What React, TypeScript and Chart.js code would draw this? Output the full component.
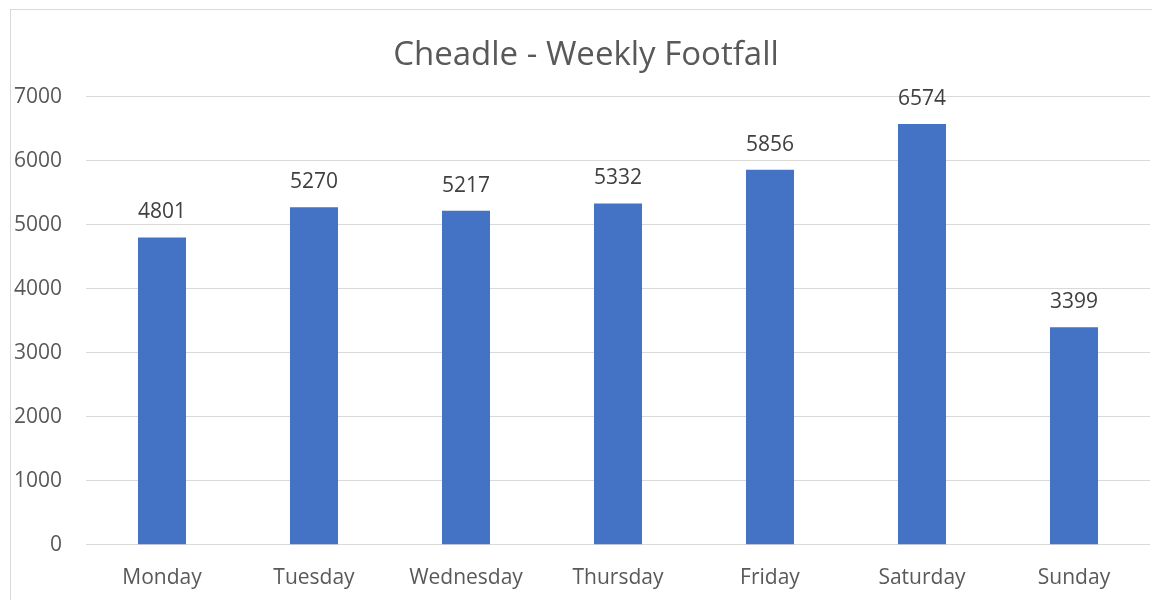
import React, { useEffect, useRef } from "react";
import { Chart, registerables } from "chart.js";

Chart.register(...registerables);

const categories = ["Monday", "Tuesday", "Wednesday", "Thursday", "Friday", "Saturday", "Sunday"];
const footfall = [4801, 5270, 5217, 5332, 5856, 6574, 3399];
const yTicks = [0, 1000, 2000, 3000, 4000, 5000, 6000, 7000];
const titleText = "Cheadle - Weekly Footfall";

const FONT = "'Open Sans', sans-serif";

const dataLabels = {
  id: "dataLabels",
  afterDatasetsDraw(chart: any) {
    const ctx = chart.ctx;
    const meta = chart.getDatasetMeta(0);
    ctx.save();
    ctx.font = `21px ${FONT}`;
    ctx.fillStyle = "#404040";
    ctx.textAlign = "center";
    ctx.textBaseline = "middle";
    meta.data.forEach((bar: any, i: number) => {
      ctx.fillText(String(footfall[i]), bar.x, bar.y - 25);
    });
    ctx.restore();
  },
};

export default function App() {
  const ref = useRef<HTMLCanvasElement | null>(null);
  useEffect(() => {
    if (!ref.current) return;
    const chart = new Chart(ref.current, {
      type: "bar",
      data: {
        labels: categories,
        datasets: [
          {
            data: footfall,
            backgroundColor: "#4472c4",
            barPercentage: 0.632,
            categoryPercentage: 0.5,
          },
        ],
      },
      options: {
        animation: false,
        responsive: false,
        maintainAspectRatio: false,
        layout: { padding: { left: 0, right: 0, top: 0, bottom: 0 } },
        plugins: {
          legend: { display: false },
          tooltip: { enabled: false },
          title: {
            display: true,
            text: titleText,
            color: "#595959",
            font: { family: FONT, size: 33, weight: "normal" },
            padding: { top: 26, bottom: 21 },
          },
        },
        scales: {
          x: {
            grid: { display: false, drawTicks: false },
            border: { display: false },
            ticks: {
              color: "#595959",
              font: { family: FONT, size: 21 },
              padding: 21,
              maxRotation: 0,
            },
          },
          y: {
            min: 0,
            max: 7000,
            afterFit: (s: any) => {
              s.width = 75;
            },
            afterBuildTicks: (s: any) => {
              s.ticks = yTicks.map((v) => ({ value: v }));
            },
            grid: { color: "#d9d9d9", lineWidth: 1, drawTicks: false },
            border: { display: false },
            ticks: {
              color: "#595959",
              font: { family: FONT, size: 21 },
              padding: 24,
              callback: (v: any) => String(v),
            },
          },
          yRight: {
            position: "right",
            display: true,
            min: 0,
            max: 7000,
            afterFit: (s: any) => {
              s.width = 11;
            },
            grid: { display: false, drawTicks: false },
            border: { display: false },
            ticks: { display: false },
          },
        },
      },
      plugins: [dataLabels],
    });
    return () => chart.destroy();
  }, []);

  return (
    <div style={{ position: "fixed", left: 0, top: 0, width: 1152, height: 600, overflow: "hidden", background: "#fff" }}>
      <div
        style={{
          position: "absolute",
          left: 10,
          top: 9,
          width: 1150,
          height: 620,
          border: "1px solid #d9d9d9",
          background: "#fff",
        }}
      >
        <canvas ref={ref} width={1150} height={602} style={{ display: "block" }} />
      </div>
    </div>
  );
}
